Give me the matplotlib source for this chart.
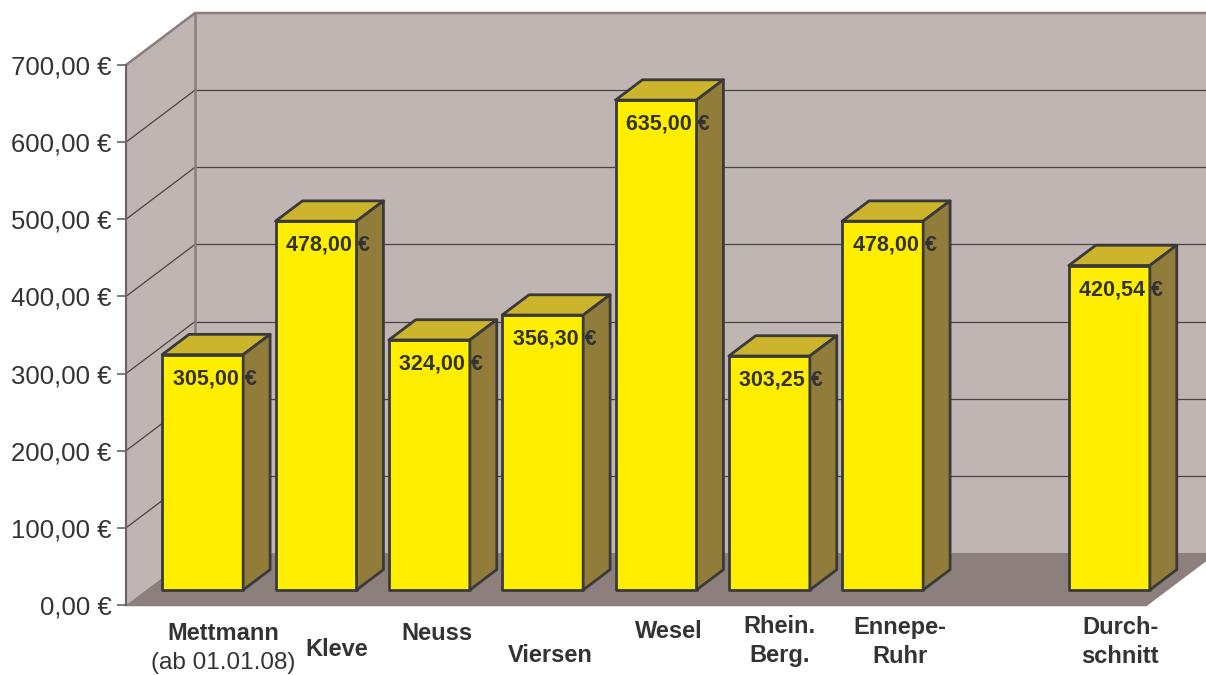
import numpy as np
import matplotlib.pyplot as plt
from matplotlib.patches import Polygon, Rectangle

plt.rcParams['font.family'] = ['Liberation Sans', 'DejaVu Sans']

# data (slot 8 is left empty in the original chart)
categories = ["Mettmann", "Kleve", "Neuss", "Viersen", "Wesel",
              "Rhein.\nBerg.", "Ennepe-\nRuhr", "", "Durch-\nschnitt"]
values = [305.00, 478.00, 324.00, 356.30, 635.00, 303.25, 478.00, np.nan, 420.54]
note = "(ab 01.01.08)"
yticks = [0, 100, 200, 300, 400, 500, 600, 700]

# layout of the category labels (pixel offsets from the bar / pixel rows)
label_dx = [21, 21, 8, 8, 13, 10, 17, 0, 11]
label_py = [634, 650, 633, 655, 631, 641, 642, 0, 642]

# colours
wall = '#bfb5b3'
floor = '#8d807c'
edge_gray = '#8a7f7d'
grid = '#4a4444'
front = '#ffee00'
top = '#ccb42c'
side = '#927c3a'
outline = '#3a3a3a'
txt = '#333333'

W, H = 1206, 675
fig = plt.figure(figsize=(W / 100, H / 100), dpi=100)
# front plane: x 126..1146 px, value 0..700 -> y 605..65 px
ax = fig.add_axes([126 / W, 70 / H, 1020 / W, 540 / H])
ax.set_xlim(0, 9)
ax.set_ylim(0, 700)
ax.patch.set_visible(False)

px_x = 1020 / 9          # pixels per category
px_y = 540 / 700         # pixels per value unit
DX = 69 / px_x           # full depth of the box
DY = 52 / px_y

def val(py):
    return (605 - py) / px_y

# walls and floor
ax.add_patch(Polygon([(0, 0), (DX, DY), (DX, 700 + DY), (0, 700)],
                     closed=True, fc=wall, ec='none', zorder=0.5, clip_on=False))
ax.add_patch(Polygon([(DX, DY), (9 + DX, DY), (9 + DX, 700 + DY), (DX, 700 + DY)],
                     closed=True, fc=wall, ec='none', zorder=0.5, clip_on=False))
for v in yticks[1:-1]:
    ax.plot([0, DX], [v, v + DY], color=grid, lw=0.9, zorder=0.6, clip_on=False)
    ax.plot([DX, 9 + DX], [v + DY, v + DY], color=grid, lw=0.9, zorder=0.6, clip_on=False)
ax.add_patch(Polygon([(0, 0), (9, 0), (9 + DX, DY), (DX, DY)],
                     closed=True, fc=floor, ec='none', zorder=0.7, clip_on=False))
# outline of the box
ax.plot([0, DX, 9 + DX], [700, 700 + DY, 700 + DY], color=edge_gray, lw=1.8,
        zorder=0.8, clip_on=False)
ax.plot([DX, DX], [DY, 700 + DY], color=edge_gray, lw=1.8, zorder=0.8, clip_on=False)
ax.plot([0, 9, 9 + DX], [0, 0, DY], color=edge_gray, lw=1.8, zorder=0.8, clip_on=False)

# bars
bw = 81 / px_x
f0, f1 = 0.29, 0.68
bdx, bdy = (f1 - f0) * DX, (f1 - f0) * DY
for i, v in enumerate(values):
    if np.isnan(v):
        continue
    x0 = i + (1 - bw) / 2 + f0 * DX
    y0 = f0 * DY
    kw = dict(ec=outline, lw=2.0, joinstyle='round', zorder=3, clip_on=False)
    ax.add_patch(Rectangle((x0, y0), bw, v, fc=front, **kw))
    ax.add_patch(Polygon([(x0, y0 + v), (x0 + bw, y0 + v),
                          (x0 + bw + bdx, y0 + v + bdy), (x0 + bdx, y0 + v + bdy)],
                         closed=True, fc=top, **kw))
    ax.add_patch(Polygon([(x0 + bw, y0), (x0 + bw + bdx, y0 + bdy),
                          (x0 + bw + bdx, y0 + v + bdy), (x0 + bw, y0 + v)],
                         closed=True, fc=side, **kw))
    lab = f"{v:.2f}".replace('.', ',') + " €"
    ax.text(x0 + bw / 2 + 12 / px_x, y0 + v - 24 / px_y, lab, ha='center', va='center',
            fontsize=15.5, fontweight='bold', color=txt, zorder=4, clip_on=False)

    # category label
    cx = x0 + bw / 2 + label_dx[i] / px_x
    ax.text(cx, val(label_py[i]), categories[i], ha='center', va='center',
            multialignment='center', linespacing=1.3, fontsize=17,
            fontweight='bold', color=txt, clip_on=False)
    if i == 0:
        ax.text(cx, val(663), note, ha='center', va='center', fontsize=17.5,
                color=txt, clip_on=False)

# y axis
ax.set_yticks(yticks)
ax.set_yticklabels([f"{t:.2f}".replace('.', ',') + " €" for t in yticks])
ax.set_xticks([])
ax.tick_params(axis='y', length=6.5, width=1.2, color='#6b6262', pad=4,
               labelsize=18.5, labelcolor=txt)
for s in ['top', 'right', 'bottom']:
    ax.spines[s].set_visible(False)
ax.spines['left'].set_color('#6b6262')
ax.spines['left'].set_linewidth(1.5)

fig.savefig('out.png', dpi=100)
